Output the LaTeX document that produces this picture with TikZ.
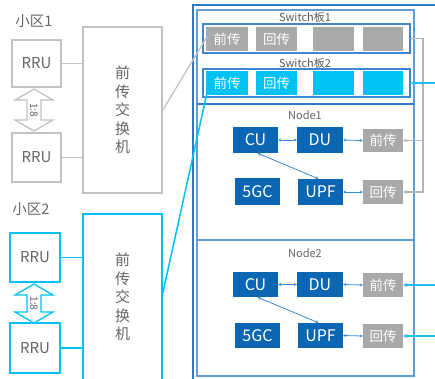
\documentclass[tikz,border=0pt]{standalone}
\usepackage{fontspec}
\setmainfont{Noto Sans CJK SC}
\usetikzlibrary{arrows.meta,calc}
\definecolor{dblue}{HTML}{0B66B4}
\definecolor{cyanc}{HTML}{00C2F3}
\definecolor{cyanl}{HTML}{1EBEF0}
\definecolor{cellgray}{HTML}{A9A9A9}
\definecolor{boxgray}{HTML}{C2C2C2}
\definecolor{linegray}{HTML}{B4B4B4}
\definecolor{txtgray}{HTML}{666666}
\definecolor{ttlgray}{HTML}{5A5A5A}
\definecolor{framedark}{HTML}{2C7BCB}
\definecolor{framelight}{HTML}{5E9DD6}
\definecolor{boardblue}{HTML}{3C87D0}
\definecolor{linkblue}{HTML}{3A8AD0}
\begin{document}
\begin{tikzpicture}[x=1pt,y=-1pt,
  graybox/.style={draw=boxgray, line width=1.6pt, fill=white, inner sep=0pt, text=txtgray, font=\fontsize{15}{17}\selectfont},
  cyanbox/.style={graybox, draw=cyanc},
  vtext/.style={text=txtgray, align=center, font=\fontsize{15}{18.5}\selectfont},
  lbl/.style={text=txtgray, font=\fontsize{14.5}{16}\selectfont},
  cellg/.style={fill=cellgray, inner sep=0pt, text=white, font=\fontsize{13.5}{15}\selectfont},
  cellc/.style={fill=cyanc, inner sep=0pt, text=white, font=\fontsize{13.5}{15}\selectfont},
  nbox/.style={fill=dblue, inner sep=0pt, text=white, font=\fontsize{16}{18}\selectfont},
  board/.style={draw=boardblue, line width=1.2pt, inner sep=0pt},
  ttl/.style={text=ttlgray, font=\fontsize{11}{13}\selectfont},
  ratio/.style={text=ttlgray, font=\fontsize{10}{11}\selectfont, rotate=-90, inner sep=0pt},
  glink/.style={draw=boxgray, line width=1.6pt},
  clink/.style={draw=cyanc, line width=1.6pt},
  blink/.style={draw=linkblue, line width=0.8pt, {Stealth[length=3pt,width=3pt]}-{Stealth[length=3pt,width=3pt]}},
  garrow/.style={draw=linegray, line width=1.2pt},
  carrow/.style={draw=cyanl, line width=1.3pt, -{Stealth[length=4pt,width=4pt]}}
]
\useasboundingbox (0,0) rectangle (435,378);

% ---------- cell 1 ----------
\node[lbl] (c1) at (34,21) {小区1};
\node[graybox, minimum width=49, minimum height=47] (r1a) at (36.5,63.5) {RRU};
\node[graybox, minimum width=49, minimum height=49] (r1b) at (36.5,157.5) {RRU};
\node[graybox, minimum width=79, minimum height=166] (s1) at (122.5,110) {};
\node[vtext] (s1t) at (122.5,110) {前\\传\\交\\换\\机};
\draw[glink] (r1a.east) -- (r1a.east -| s1.west);
\draw[glink] (r1b.east) -- (r1b.east -| s1.west);
\draw[draw=boxgray, line width=1.3pt, fill=white]
  (34,89) -- (53,100) -- (41,100) -- (41,120) -- (53,120) -- (34,131) -- (15,120) -- (27,120) -- (27,100) -- (15,100) -- cycle;
\node[ratio] (q1) at (34,110) {1:8};

% ---------- cell 2 ----------
\node[lbl] (c2) at (31,209) {小区2};
\node[cyanbox, minimum width=50, minimum height=49] (r2a) at (35,257.5) {RRU};
\node[cyanbox, minimum width=50, minimum height=50] (r2b) at (35,348) {RRU};
\node[cyanbox, minimum width=79, minimum height=166] (s2) at (122.5,297) {};
\node[vtext] (s2t) at (122.5,297) {前\\传\\交\\换\\机};
\draw[clink] (r2a.east) -- (r2a.east -| s2.west);
\draw[clink] (r2b.east) -- (r2b.east -| s2.west);
\draw[draw=cyanc, line width=1.3pt, fill=white]
  (34,284) -- (53,295) -- (41,295) -- (41,312) -- (53,312) -- (34,323) -- (15,312) -- (27,312) -- (27,295) -- (15,295) -- cycle;
\node[ratio] (q2) at (34,303.5) {1:8};

% ---------- right frame ----------
\draw[draw=framedark, line width=2pt] (193,5) rectangle (445,385);
\draw[draw=framelight, line width=1.3pt] (197,10) rectangle (414,376);
\draw[draw=framedark, line width=1.2pt] (197,104) -- (414,104);
\draw[draw=framelight, line width=1.2pt] (197,240) -- (414,240);

% Switch board 1
\node[ttl] (t1) at (305,17) {Switch板1};
\node[board, minimum width=207, minimum height=29] (bd1) at (306.5,38.5) {};
\node[cellg, minimum width=42, minimum height=24] (b1c1) at (227,39) {前传};
\node[cellg, minimum width=41, minimum height=24] (b1c2) at (276.5,39) {回传};
\node[cellg, minimum width=41, minimum height=24] (b1c3) at (333.5,39) {};
\node[cellg, minimum width=40, minimum height=24] (b1c4) at (383,39) {};

% Switch board 2
\node[board, minimum width=207, minimum height=28] (bd2) at (306.5,83) {};
\node[ttl] (t2) at (305,63) {Switch板2};
\node[cellc, minimum width=42, minimum height=24] (b2c1) at (227,83) {前传};
\node[cellc, minimum width=41, minimum height=24] (b2c2) at (276.5,83) {回传};
\node[cellc, minimum width=41, minimum height=24] (b2c3) at (333.5,83) {};
\node[cellc, minimum width=40, minimum height=24] (b2c4) at (383,83) {};

% Node1
\node[ttl, text=txtgray] (n1) at (305,115) {Node1};
\node[nbox, minimum width=45, minimum height=26] (cu1) at (255.5,140) {CU};
\node[nbox, minimum width=46, minimum height=26] (du1) at (320,140) {DU};
\node[cellg, minimum width=40, minimum height=23] (f1) at (383,140.5) {前传};
\node[nbox, minimum width=45, minimum height=27] (gc1) at (257.5,191.5) {5GC};
\node[nbox, minimum width=45, minimum height=26] (upf1) at (320.5,192) {UPF};
\node[cellg, minimum width=40, minimum height=24] (bk1) at (383,192) {回传};
\draw[blink] (cu1.east) -- (du1.west);
\draw[blink] (du1.east) -- (f1.west);
\draw[blink] (upf1.east) -- (bk1.west);
\draw[blink] ($(cu1.south)+(2,0)$) -- ($(upf1.north)+(-2,0)$);

% Node2
\node[ttl, text=txtgray] (n2) at (305,253) {Node2};
\node[nbox, minimum width=45, minimum height=25] (cu2) at (255.5,284.5) {CU};
\node[nbox, minimum width=46, minimum height=25] (du2) at (320,284.5) {DU};
\node[cellg, minimum width=40, minimum height=24] (f2) at (383,285) {前传};
\node[nbox, minimum width=45, minimum height=25] (gc2) at (257.5,335.5) {5GC};
\node[nbox, minimum width=45, minimum height=25] (upf2) at (320.5,335.5) {UPF};
\node[cellg, minimum width=40, minimum height=24] (bk2) at (383,336) {回传};
\draw[blink] (cu2.east) -- (du2.west);
\draw[blink] (du2.east) -- (f2.west);
\draw[blink] (upf2.east) -- (bk2.west);
\draw[blink] ($(cu2.south)+(2,0)$) -- ($(upf2.north)+(-2,0)$);

% links from front-haul switches
\draw[draw=boxgray, line width=1.3pt] (s1.east) -- ($(b1c1.west)+(1,-2)$);
\draw[draw=cyanc, line width=1.5pt] ($(s2.east)+(0,-4)$) -- ($(b2c1.south west)+(2,-6)$);

% right side connectors
\coordinate (gx) at (423,0);
\draw[garrow, {Stealth[length=3.5pt,width=3.5pt]}-{Stealth[length=3.5pt,width=3.5pt]}]
  (bd1.east) -- (bd1.east -| gx) |- (bk1.east);
\draw[garrow, -{Stealth[length=3.5pt,width=3.5pt]}] (f1.east -| gx) -- (f1.east);
\coordinate (e1) at (440,83);
\coordinate (e2) at (440,285);
\coordinate (e3) at (440,336);
\draw[carrow] (e1) -- (bd2.east);
\draw[carrow] (e2) -- (f2.east);
\draw[carrow] (e3) -- (bk2.east);
\end{tikzpicture}
\end{document}
